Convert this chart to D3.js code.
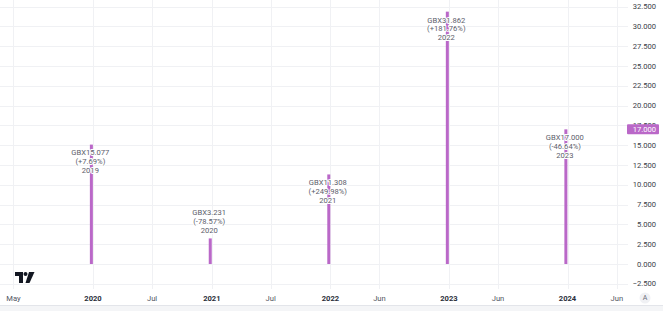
<!DOCTYPE html>
<html>
<head>
<meta charset="utf-8">
<script src="https://cdn.jsdelivr.net/npm/d3@7"></script>
<style>
  html, body { margin: 0; padding: 0; background: #ffffff; }
  svg { display: block; }
  text { font-family: Roboto, "Noto Sans", sans-serif; }
</style>
</head>
<body>
<svg id="chart" width="663" height="311"></svg>
<script>
// ---------------- data ----------------
const fiscalYears = ["2019", "2020", "2021", "2022", "2023"];
const reportDates = ["2019-12-27", "2020-12-27", "2021-12-27", "2022-12-27", "2023-12-27"];
const values = [15.077, 3.231, 11.308, 31.862, 17.000];
const changes = ["+7.69%", "-78.57%", "+249.98%", "+181.76%", "-46.64%"];
const currency = "GBX";
const lastValue = 17.000;

const xTickDates = ["2019-05-01", "2020-01-01", "2020-07-01", "2021-01-01", "2021-07-01",
                    "2022-01-01", "2022-06-01", "2023-01-01", "2023-06-01", "2024-01-01", "2024-06-01"];
const xTickLabels = ["May", "2020", "Jul", "2021", "Jul", "2022", "Jun", "2023", "Jun", "2024", "Jun"];
const yTicks = [-2.5, 0, 2.5, 5, 7.5, 10, 12.5, 15, 17.5, 20, 22.5, 25, 27.5, 30, 32.5];

// ---------------- layout ----------------
const W = 663, H = 311;
const plotRight = 628, plotBottom = 289;
const barColor = "#BA68C8";

const svg = d3.select("#chart");
const parse = d3.utcParse("%Y-%m-%d");

const x = d3.scaleUtc()
  .domain([parse("2020-01-01"), parse("2024-01-01")])
  .range([93, 567.5]);

const y = d3.scaleLinear()
  .domain([0, 32.5])
  .range([264, 6.6]);

// background
svg.append("rect").attr("width", W).attr("height", H).attr("fill", "#ffffff");

// grid
const grid = svg.append("g");
grid.selectAll("line.h").data(yTicks).join("line")
  .attr("x1", 0).attr("x2", plotRight)
  .attr("y1", d => Math.round(y(d)) + 0.5).attr("y2", d => Math.round(y(d)) + 0.5)
  .attr("stroke", "#f0f1f4").attr("stroke-width", 1);
grid.selectAll("line.v").data(xTickDates).join("line")
  .attr("x1", d => Math.round(x(parse(d))) + 0.5).attr("x2", d => Math.round(x(parse(d))) + 0.5)
  .attr("y1", 0).attr("y2", plotBottom)
  .attr("stroke", "#f0f1f4").attr("stroke-width", 1);

// bars (stems)
const bars = fiscalYears.map((fy, i) => ({ fy, date: parse(reportDates[i]), value: values[i], change: changes[i] }));
svg.append("g").selectAll("rect").data(bars).join("rect")
  .attr("x", d => x(d.date) - 1.5)
  .attr("width", 3)
  .attr("y", d => y(d.value))
  .attr("height", d => y(0) - y(d.value))
  .attr("fill", barColor);

// value labels
const fmt = d3.format(".3f");
const lineGap = 8.7;
const lblG = svg.append("g");
bars.forEach(d => {
  const top = y(d.value);
  const barH = y(0) - top;
  const lines = [currency + fmt(d.value), "(" + d.change + ")", d.fy];
  const firstY = barH < 40 ? top - 8.4 - 2 * lineGap : top + 8.2;
  lines.forEach((t, j) => {
    lblG.append("text")
      .attr("x", x(d.date) - 1)
      .attr("y", firstY + j * lineGap)
      .attr("dy", "0.35em")
      .attr("text-anchor", "middle")
      .attr("font-size", "7.6px")
      .attr("fill", "#5d606b")
      .attr("stroke", "#ffffff")
      .attr("stroke-width", 2)
      .attr("stroke-linejoin", "round")
      .attr("paint-order", "stroke")
      .text(t);
  });
});

// y axis labels (right)
const yAxis = svg.append("g");
yAxis.selectAll("text").data(yTicks).join("text")
  .attr("x", 656)
  .attr("y", d => y(d))
  .attr("dy", "0.35em")
  .attr("text-anchor", "end")
  .attr("font-size", "7.6px")
  .attr("fill", "#3b3e48")
  .text(d => fmt(d));

// last value badge
const lv = y(lastValue);
svg.append("rect")
  .attr("x", 627).attr("y", lv - 5).attr("width", 32).attr("height", 10)
  .attr("rx", 1)
  .attr("fill", barColor);
svg.append("text")
  .attr("x", 656).attr("y", lv).attr("dy", "0.35em")
  .attr("text-anchor", "end").attr("font-size", "7.6px").attr("fill", "#ffffff")
  .text(fmt(lastValue));

// x axis labels
const xAxis = svg.append("g");
xAxis.selectAll("text").data(xTickDates).join("text")
  .attr("x", (d, i) => x(parse(d)))
  .attr("y", 298)
  .attr("dy", "0.35em")
  .attr("text-anchor", "middle")
  .attr("font-size", "7.6px")
  .attr("font-weight", (d, i) => /^\d{4}$/.test(xTickLabels[i]) ? "bold" : "normal")
  .attr("fill", (d, i) => /^\d{4}$/.test(xTickLabels[i]) ? "#2a2e39" : "#50535e")
  .text((d, i) => xTickLabels[i]);

// "A" (auto scale) button
svg.append("circle").attr("cx", 645).attr("cy", 298).attr("r", 5.5).attr("fill", "#f0f1f4");
svg.append("text").attr("x", 645).attr("y", 298).attr("dy", "0.35em")
  .attr("text-anchor", "middle").attr("font-size", "7px").attr("fill", "#6a6d78").text("A");

// bottom border
svg.append("rect").attr("x", 0).attr("y", 305).attr("width", W).attr("height", 6).attr("fill", "#f4f5f7");
svg.append("line").attr("x1", 0).attr("x2", W).attr("y1", 305.5).attr("y2", 305.5)
  .attr("stroke", "#e3e5ea");

// TradingView logo
const logo = svg.append("g").attr("fill", "#131722");
logo.append("path").attr("d", "M15,272 H23 V283 H19 V276 H15 Z");
logo.append("circle").attr("cx", 25.5).attr("cy", 274).attr("r", 2);
logo.append("path").attr("d", "M29,272 H34.5 L29.5,283 H25.5 Z");
</script>
</body>
</html>
